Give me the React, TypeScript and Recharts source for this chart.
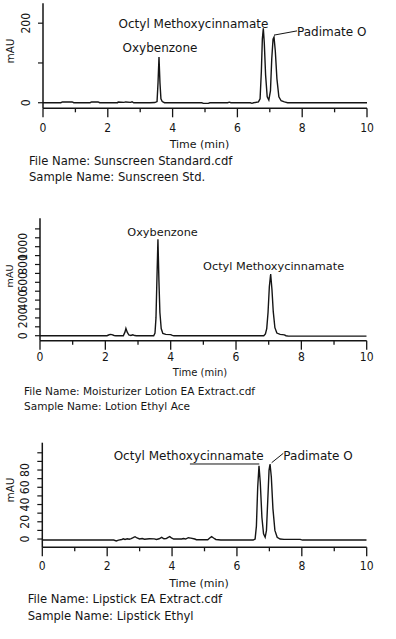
import { LineChart, Line, XAxis, YAxis, ReferenceLine, ReferenceDot } from 'recharts';

type Pair = [number, number];

const INK = '#151515';
const FONT = '"DejaVu Sans", sans-serif';
const NUM_FONT = '"Liberation Sans Narrow", "DejaVu Sans Condensed", sans-serif';

// time axis (min)
const X_TICKS = [0, 1, 2, 3, 4, 5, 6, 7, 8, 9, 10];
const X_LABELS = [0, 2, 4, 6, 8, 10];

// [time (min), mAU]
const STD_TRACE: Pair[] = [
  [0, 0], [0.55, 0], [0.6, 2], [0.9, 2], [0.95, 0], [1.45, 0], [1.5, 2], [1.7, 2], [1.75, 0],
  [2.3, 0], [2.32, 2], [2.5, 1], [2.55, 2], [2.7, 1], [2.75, 2.5], [2.8, 0], [3.3, 0], [3.45, 0.5],
  [3.52, 3], [3.55, 50], [3.58, 115], [3.61, 50], [3.64, 10], [3.68, 3], [3.75, 0],
  [4.9, 0], [4.95, -1.5], [5.1, -1.5], [5.15, 0], [5.7, 0], [5.75, 1.5], [5.8, 0],
  [6.4, 0], [6.45, -1.5], [6.5, 0], [6.65, 2], [6.7, 10], [6.74, 80], [6.77, 160], [6.8, 187],
  [6.83, 150], [6.87, 70], [6.92, 15], [6.97, 7], [7.02, 30], [7.06, 110], [7.1, 160], [7.13, 165],
  [7.17, 130], [7.22, 60], [7.28, 15], [7.35, 5], [7.45, 2], [7.55, 0], [10, 0],
];

const LOTION_TRACE: Pair[] = [
  [0, 0], [2.05, 0], [2.1, 8], [2.15, 15], [2.2, 12], [2.27, 3], [2.32, 0], [2.55, 0], [2.6, 40],
  [2.63, 82], [2.67, 40], [2.72, 8], [2.78, 3], [2.84, 11], [2.9, 2], [2.95, 0], [3.48, 0],
  [3.52, 30], [3.55, 200], [3.58, 650], [3.61, 1083], [3.64, 620], [3.67, 260], [3.71, 80],
  [3.76, 25], [3.85, 15], [4.0, 12], [4.05, 3], [4.1, 0], [6.85, 0], [6.9, 20], [6.94, 80],
  [6.98, 260], [7.02, 550], [7.06, 693], [7.1, 520], [7.14, 270], [7.19, 90], [7.25, 30],
  [7.35, 15], [7.48, 10], [7.53, 0], [7.6, -5], [10, -5],
];

const LIPSTICK_TRACE: Pair[] = [
  [0, -1.2], [2.2, -1.2], [2.28, -2.2], [2.35, -1.2], [2.45, -0.5], [2.5, 0.2], [2.55, -0.5],
  [2.62, 0.3], [2.68, -0.3], [2.74, 0.5], [2.8, 1.5], [2.86, 2.7], [2.92, 1.2], [3.0, 0],
  [3.08, 0.6], [3.15, -0.2], [3.3, 0.3], [3.45, 0.2], [3.52, -0.5], [3.6, 0.3], [3.68, 2],
  [3.75, 0.3], [3.82, 0.5], [3.88, 2], [3.93, 2.8], [3.98, 1.2], [4.05, 0], [4.3, 0], [4.35, 0.6],
  [4.42, 0], [4.5, 1.5], [4.58, 1], [4.7, 0], [4.75, -0.8], [5.1, -0.8], [5.17, 1.5], [5.22, 2.8],
  [5.28, 1.2], [5.35, -0.5], [5.5, -1.2], [6.5, -1.2], [6.56, 0], [6.6, 15], [6.64, 60], [6.68, 85],
  [6.72, 65], [6.77, 25], [6.82, 6], [6.87, 2], [6.91, 10], [6.95, 45], [6.99, 80], [7.02, 87],
  [7.06, 72], [7.11, 35], [7.17, 10], [7.24, 2], [7.33, 0], [7.45, -0.4], [7.95, -0.4],
  [8.02, -1.2], [10, -1.2],
];

const STD_Y_TICKS = [0, 100, 200];
const STD_Y_LABELS = [0, 200];
const LOTION_Y_TICKS = [0, 100, 200, 300, 400, 500, 600, 700, 800, 900, 1000, 1100, 1200];
const LOTION_Y_LABELS = [0, 200, 400, 600, 800, 1000];
const LIPSTICK_Y_TICKS = [0, 10, 20, 30, 40, 50, 60, 70, 80, 90, 100];
const LIPSTICK_Y_LABELS = [0, 20, 40, 60, 80];

interface Note { t: number; v: number; text: string; anchor: 'middle' | 'start' }

const PANELS = [
  {
    key: 'std', trace: STD_TRACE, top: 0, height: 152, scale: 1,
    plot: { left: 43, right: 367, top: 3.3, bottom: 108.3 },
    yDomain: [-14, 250], yTicks: STD_Y_TICKS, yLabels: STD_Y_LABELS, xGap: 23.7,
    title: { x: 199.5, y: 144 }, unit: { x: 9.5, y: 51.3 },
    notes: [
      { t: 3.61, v: 138, text: 'Oxybenzone', anchor: 'middle' },
      { t: 4.645, v: 198, text: 'Octyl Methoxycinnamate', anchor: 'middle' },
      { t: 7.84, v: 178, text: 'Padimate O', anchor: 'start' },
    ] as Note[],
    leaders: [[[7.13, 170], [7.84, 180.6]]] as Pair[][],
    file: 'File Name: Sunscreen Standard.cdf', sample: 'Sample Name: Sunscreen Std.',
    textX: 29, fileY: 162, sampleY: 178,
  },
  {
    key: 'lotion', trace: LOTION_TRACE, top: 200, height: 180, scale: 0.91,
    plot: { left: 40, right: 366.7, top: 218.3, bottom: 340.7 },
    yDomain: [-56, 1319], yTicks: LOTION_Y_TICKS, yLabels: LOTION_Y_LABELS, xGap: 20,
    title: { x: 200, y: 373 }, unit: { x: 9.5, y: 275.7 },
    notes: [
      { t: 3.75, v: 1169, text: 'Oxybenzone', anchor: 'middle' },
      { t: 7.15, v: 783, text: 'Octyl Methoxycinnamate', anchor: 'middle' },
    ] as Note[],
    leaders: [] as Pair[][],
    file: 'File Name: Moisturizer Lotion EA Extract.cdf', sample: 'Sample Name: Lotion Ethyl Ace',
    textX: 24, fileY: 391, sampleY: 406,
  },
  {
    key: 'lipstick', trace: LIPSTICK_TRACE, top: 420, height: 175, scale: 1,
    plot: { left: 42.3, right: 366.7, top: 442.7, bottom: 547.3 },
    yDomain: [-9.6, 111.7], yTicks: LIPSTICK_Y_TICKS, yLabels: LIPSTICK_Y_LABELS, xGap: 23,
    title: { x: 199, y: 582.7 }, unit: { x: 9.5, y: 490 },
    notes: [
      { t: 4.51, v: 96.6, text: 'Octyl Methoxycinnamate', anchor: 'middle' },
      { t: 7.43, v: 96.6, text: 'Padimate O', anchor: 'start' },
    ] as Note[],
    leaders: [[[4.55, 87], [6.69, 87]], [[7.07, 88.5], [7.43, 99.4]]] as Pair[][],
    file: 'File Name: Lipstick EA Extract.cdf', sample: 'Sample Name: Lipstick Ethyl',
    textX: 27.7, fileY: 600, sampleY: 616.7,
  },
];

function XTick({ x, y, payload, gap }: any) {
  const major = X_LABELS.includes(payload.value);
  return (
    <g>
      <line x1={x} x2={x} y1={y} y2={y + (major ? 9 : 4)} stroke={INK} strokeWidth={1.3} />
      {major && (
        <text x={x} y={y + gap} textAnchor="middle" fontSize={12} fontFamily={NUM_FONT} fill={INK}>
          {payload.value}
        </text>
      )}
    </g>
  );
}

function YTick({ x, y, payload, labels }: any) {
  const major = labels.includes(payload.value);
  const lx = x - 13;
  return (
    <g>
      <line x1={x - 5} x2={x} y1={y} y2={y} stroke={INK} strokeWidth={1.2} />
      {major && (
        <text x={lx} y={y} transform={`rotate(-90 ${lx} ${y})`} textAnchor="middle"
          fontSize={12} fontFamily={NUM_FONT} fill={INK}>
          {payload.value}
        </text>
      )}
    </g>
  );
}

function Panel({ p }: { p: (typeof PANELS)[number] }) {
  const data = p.trace.map(([t, v]) => ({ t, v }));
  const xAxisH = p.height - (p.plot.bottom - p.top);
  const noteSize = p.scale < 1 ? 11.3 : 12;
  return (
    <div style={{ position: 'absolute', left: 0, top: p.top }}>
      <LineChart width={396} height={p.height} data={data}
        margin={{ top: p.plot.top - p.top, right: 396 - p.plot.right, bottom: 0, left: 0 }}>
        <XAxis dataKey="t" type="number" domain={[0, 10]} ticks={X_TICKS} interval={0}
          allowDataOverflow height={xAxisH} tickSize={0} tickMargin={0} tickLine={false}
          axisLine={{ stroke: INK, strokeWidth: 1.5 }}
          tick={(props: any) => <XTick {...props} gap={p.xGap} />} />
        <YAxis type="number" domain={p.yDomain} ticks={p.yTicks} interval={0}
          allowDataOverflow width={p.plot.left} tickSize={0} tickMargin={0} tickLine={false}
          axisLine={{ stroke: INK, strokeWidth: 1.5 }}
          tick={(props: any) => <YTick {...props} labels={p.yLabels} />} />
        {p.leaders.map((seg, i) => (
          <ReferenceLine key={`l${i}`} segment={[{ x: seg[0][0], y: seg[0][1] }, { x: seg[1][0], y: seg[1][1] }]}
            stroke={INK} strokeWidth={1} ifOverflow="visible" />
        ))}
        <Line type="linear" dataKey="v" stroke={INK} strokeWidth={1.4} dot={false}
          isAnimationActive={false} />
        {p.notes.map((n) => (
          <ReferenceDot key={n.text} x={n.t} y={n.v} r={0} ifOverflow="visible"
            shape={(s: any) => (
              <text x={s.cx} y={s.cy} dy="0.36em" textAnchor={n.anchor} fontSize={noteSize}
                fontFamily={FONT} fill={INK}>{n.text}</text>
            )} />
        ))}
      </LineChart>
    </div>
  );
}

const centered = (x: number, y: number, size: number, rotate = false): React.CSSProperties => ({
  position: 'absolute', left: x, top: y, fontSize: size, lineHeight: 1, whiteSpace: 'nowrap',
  transform: `translate(-50%, -50%)${rotate ? ' rotate(-90deg)' : ''}`,
});

export default function App() {
  return (
    <div style={{ position: 'absolute', left: 0, top: 0, width: 396, height: 639, background: '#fff',
      fontFamily: FONT, color: INK, overflow: 'hidden' }}>
      {PANELS.map((p) => (
        <div key={p.key}>
          <Panel p={p} />
          <div style={centered(p.unit.x, p.unit.y, 10.5 * p.scale, true)}>mAU</div>
          <div style={centered(p.title.x, p.title.y, 11 * p.scale)}>Time (min)</div>
          <div style={{ ...centered(p.textX, p.fileY, 11.6 * p.scale), transform: 'translate(0, -50%)' }}>{p.file}</div>
          <div style={{ ...centered(p.textX, p.sampleY, 11.6 * p.scale), transform: 'translate(0, -50%)' }}>{p.sample}</div>
        </div>
      ))}
    </div>
  );
}
